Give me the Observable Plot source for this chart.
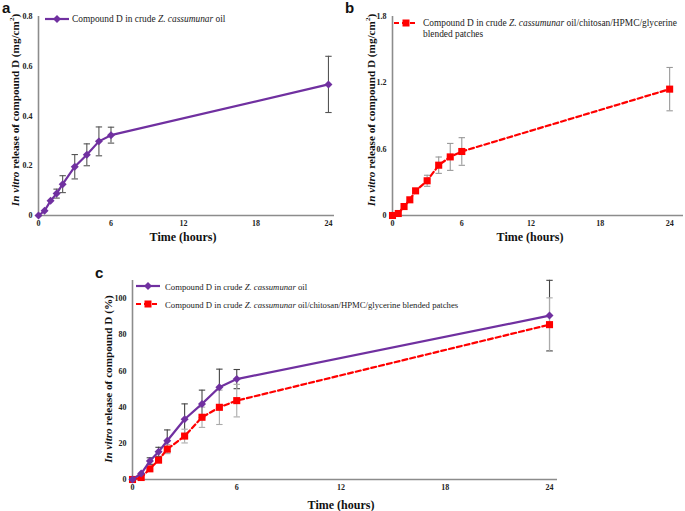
<!DOCTYPE html>
<html><head><meta charset="utf-8">
<script src="https://cdn.jsdelivr.net/npm/d3@7"></script>
<script src="https://cdn.jsdelivr.net/npm/@observablehq/plot@0.6"></script>
<style>
body{margin:0;background:#fff;}
#root{position:relative;width:685px;height:511px;overflow:hidden;font-family:"Liberation Serif","Times New Roman",Times,"DejaVu Serif",serif;color:#111;}
.plab{position:absolute;font-family:"Liberation Sans",Arial,sans-serif;font-weight:bold;font-size:15px;line-height:15px;}
.xt{position:absolute;font-weight:bold;font-size:12px;line-height:12px;white-space:nowrap;transform:translateX(-50%);}
.yt{position:absolute;font-weight:bold;font-size:11.2px;line-height:12px;white-space:nowrap;transform:translate(-50%,-50%) rotate(-90deg);}
.yt sup{font-size:7px;line-height:0;}
.leg{position:absolute;font-size:9.4px;line-height:10px;white-space:nowrap;color:#222;}
</style></head><body><div id="root"></div>
<script>
// ---- data ----
const hours = [0, 0.5, 1, 1.5, 2, 3, 4, 5, 6, 24];
// panel a: compound D in crude oil (mg/cm2)
const oilMg   = [0, 0.019, 0.059, 0.088, 0.126, 0.196, 0.244, 0.298, 0.323, 0.527];
const oilMgSd = [0, 0, 0, 0.018, 0.034, 0.049, 0.044, 0.058, 0.032, 0.113];
// panel b: compound D in blended patches (mg/cm2)
const patchMg   = [0, 0.018, 0.081, 0.142, 0.223, 0.314, 0.455, 0.530, 0.579, 1.143];
const patchMgSd = [0, 0, 0, 0, 0, 0.050, 0.074, 0.122, 0.125, 0.196];
// panel c: percentage release
const oilPct     = [0, 3.3, 10.2, 15.3, 21.4, 33.3, 41.8, 51.0, 55.5, 90.6];
const oilPctSd   = [0, 0, 1.8, 2.5, 6.0, 8.5, 7.6, 10.0, 5.3, 19.5];
const patchPct   = [0, 1.1, 5.9, 10.7, 16.8, 24.0, 34.4, 39.9, 43.6, 85.6];
const patchPctSd = [0, 0, 0, 1.0, 2.5, 3.8, 5.6, 9.5, 9.0, 14.8];
// ticks
const xTicks  = [0, 6, 12, 18, 24];
const yTicksA = [0, 0.2, 0.4, 0.6, 0.8];
const yTicksB = [0, 0.6, 1.2, 1.8];
const yTicksC = [0, 20, 40, 60, 80, 100];
// texts
const legendOil = 'Compound D in crude <i>Z. cassumunar</i> oil';
const legendPatch = 'Compound D in crude <i>Z. cassumunar</i> oil/chitosan/HPMC/glycerine';
const legendPatch2 = 'blended patches';
const xTitle = 'Time (hours)';
const yTitleMg = '<i>In vitro</i> release of compound D (mg/cm<sup>2</sup>)';
const yTitlePct = '<i>In vitro</i> release of compound D (%)';

// ---- styles ----
const FONT = '"Liberation Serif","Times New Roman",Times,"DejaVu Serif",serif';
const PURPLE = "#7030a0", RED = "#ff0000", AXIS = "#8c8c8c";
const cap = {draw(ctx) { ctx.moveTo(-3.2, 0); ctx.lineTo(3.2, 0); }};

function rows(y, sd) {
  return hours.map((h, i) => ({h, y: y[i], sd: sd[i], lo: y[i] - sd[i], hi: y[i] + sd[i]}));
}

function errMarks(data, err) {
  const e = data.filter(d => d.sd > 0);
  return [
    Plot.ruleX(e, {x: "h", y1: "lo", y2: "hi", stroke: err, strokeWidth: 1.1}),
    Plot.dot(e, {x: "h", y: "lo", symbol: cap, stroke: err, fill: "none", strokeWidth: 1.1}),
    Plot.dot(e, {x: "h", y: "hi", symbol: cap, stroke: err, fill: "none", strokeWidth: 1.1})
  ];
}
function lineMarks(data, {color, dash, symbol, r}) {
  return [
    Plot.line(data, {x: "h", y: "y", stroke: color, strokeWidth: 2.2, strokeDasharray: dash}),
    Plot.dot(data, {x: "h", y: "y", symbol, r, fill: color, stroke: "none"})
  ];
}

function panel({w, h, ml, mr, mt, mb, xMax, yMax, yTicks, series}) {
  return Plot.plot({
    width: w, height: h, marginLeft: ml, marginRight: mr, marginTop: mt, marginBottom: mb,
    x: {domain: [0, xMax]}, y: {domain: [0, yMax]},
    style: {fontFamily: FONT, background: "transparent", overflow: "visible", color: "#222"},
    marks: [
      Plot.ruleY([0], {stroke: AXIS, strokeWidth: 1.6}),
      Plot.ruleX([0], {stroke: AXIS, strokeWidth: 1.6}),
      Plot.axisX({ticks: xTicks, tickSize: 0, tickPadding: 5, fontSize: 8, fontWeight: "bold", label: null, tickFormat: d => d}),
      Plot.axisY({ticks: yTicks, tickSize: 0, tickPadding: 6, fontSize: 8, fontWeight: "bold", label: null, tickFormat: d => d}),
      ...series
    ]
  });
}

const root = document.getElementById("root");
function place(el, left, top) { el.style.position = "absolute"; el.style.left = left + "px"; el.style.top = top + "px"; root.appendChild(el); }
function html(cls, left, top, content) { const d = document.createElement("div"); d.className = cls; d.style.left = left + "px"; d.style.top = top + "px"; d.innerHTML = content; root.appendChild(d); return d; }
function legendSample(left, top, color, dash, kind) {
  const s = d3.create("svg").attr("width", 26).attr("height", 12).style("position", "absolute").style("left", left + "px").style("top", top + "px");
  s.append("line").attr("x1", 1).attr("x2", 25).attr("y1", 6).attr("y2", 6).attr("stroke", color).attr("stroke-width", 2.2).attr("stroke-dasharray", dash || null);
  if (kind === "diamond") s.append("path").attr("d", "M13,2L17,6L13,10L9,6Z").attr("fill", color);
  else s.append("rect").attr("x", 9.5).attr("y", 2.5).attr("width", 7).attr("height", 7).attr("fill", color);
  root.appendChild(s.node());
}

const oilA = rows(oilMg, oilMgSd), patchB = rows(patchMg, patchMgSd);
const oilC = rows(oilPct, oilPctSd), patchC = rows(patchPct, patchPctSd);
const oilStyle = {color: PURPLE, dash: null, symbol: "diamond2", r: 3.6};
const patchStyle = {color: RED, dash: "5,3", symbol: "square", r: 4};

// panel a
place(panel({w: 340, h: 240, ml: 38, mr: 6, mt: 16, mb: 25, xMax: 24.5, yMax: 0.8, yTicks: yTicksA,
  series: [...errMarks(oilA, "#555"), ...lineMarks(oilA, oilStyle)]}), 0, 0);
// panel b
place(panel({w: 345, h: 240, ml: 52, mr: 2, mt: 16, mb: 25, xMax: 25.2, yMax: 1.8, yTicks: yTicksB,
  series: [...errMarks(patchB, "#999"), ...lineMarks(patchB, patchStyle)]}), 340, 0);
// panel c
place(panel({w: 685, h: 251, ml: 132, mr: 128, mt: 20, mb: 32, xMax: 24.46, yMax: 110, yTicks: yTicksC,
  series: [...errMarks(oilC, "#444"), ...errMarks(patchC, "#aaa"), ...lineMarks(patchC, patchStyle), ...lineMarks(oilC, oilStyle)]}), 0, 260);

// panel labels
html("plab", 2, 0, "a");
html("plab", 345, 0, "b");
html("plab", 95, 265, "c");
// axis titles
html("xt", 183, 231, xTitle);
html("xt", 530, 231, xTitle);
html("xt", 341, 499, xTitle);
html("yt", 15, 110, yTitleMg);
html("yt", 371, 110, yTitleMg);
html("yt", 108, 379, yTitlePct);
// legends
legendSample(44, 13, PURPLE, null, "diamond");
html("leg", 72, 14, legendOil);
legendSample(393, 17, RED, "5,3", "square");
html("leg", 423, 18, legendPatch);
html("leg", 423, 28.5, legendPatch2);
legendSample(135, 280, PURPLE, null, "diamond");
html("leg", 165, 281.5, legendOil).style.fontSize = "8.7px";
legendSample(135, 298, RED, "5,3", "square");
html("leg", 165, 299.5, legendPatch + " " + legendPatch2).style.fontSize = "8.7px";
</script></body></html>
